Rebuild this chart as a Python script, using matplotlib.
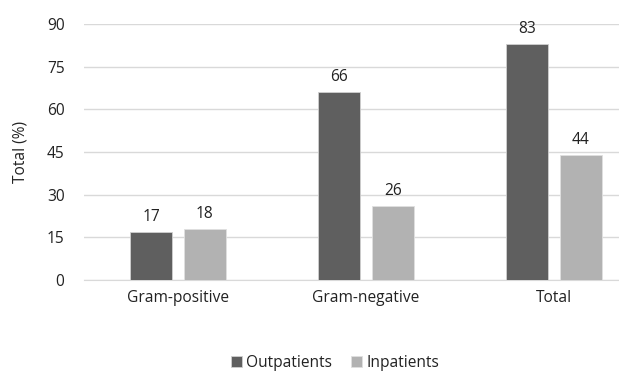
import matplotlib.pyplot as plt
import numpy as np

categories = ["Gram-positive", "Gram-negative", "Total"]
outpatients = [17, 66, 83]
inpatients = [18, 26, 44]
yticks = [0, 15, 30, 45, 60, 75, 90]

plt.rcParams['font.family'] = ['Open Sans', 'DejaVu Sans']
fs = 11.2

fig = plt.figure(figsize=(6.19, 3.74), dpi=100)
ax = fig.add_axes([84/619, 94/374, 564/619, 256/374])

x = np.arange(len(categories))
w = 0.225
b1 = ax.bar(x - 0.142, outpatients, w, color='#5f5f5f', edgecolor='#d0d0d0',
            linewidth=0.6, label='Outpatients', zorder=3)
b2 = ax.bar(x + 0.142, inpatients, w, color='#b2b2b2', edgecolor='#e0e0e0',
            linewidth=0.6, label='Inpatients', zorder=3)
for bars in (b1, b2):
    for r in bars:
        ax.annotate(str(int(r.get_height())), (r.get_x() + r.get_width()/2, r.get_height()),
                    xytext=(0, 5), textcoords='offset points', ha='center', va='bottom',
                    fontsize=fs, color='#222222')

ax.set_xlim(-0.5, 2.5)
ax.set_ylim(0, 90)
ax.set_yticks(yticks)
ax.set_xticks(x)
ax.set_xticklabels(categories)
ax.tick_params(axis='both', length=0, labelsize=fs, colors='#222222')
ax.tick_params(axis='y', pad=14)
ax.tick_params(axis='x', pad=7)
ax.grid(axis='y', color='#d9d9d9', linewidth=1, zorder=0)
for s in ['top', 'right', 'left']:
    ax.spines[s].set_visible(False)
ax.spines['bottom'].set_color('#d9d9d9')
ax.set_ylabel('Total (%)', fontsize=fs, color='#222222')
ax.yaxis.set_label_coords(-55/564, 0.5)

fig.legend(loc='center', bbox_to_anchor=(335/619, 1 - 363/374), ncol=2, frameon=False,
           fontsize=fs, handlelength=0.7, handleheight=0.7, handletextpad=0.3,
           columnspacing=1.2, labelcolor='#222222')

fig.savefig('out.png', dpi=100)
